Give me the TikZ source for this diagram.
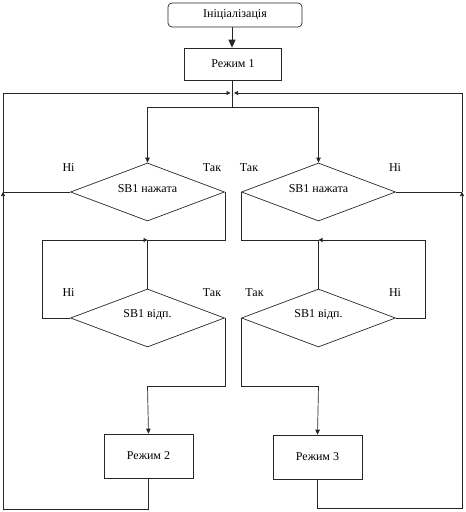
\documentclass[tikz,border=0pt]{standalone}
\usepackage{fontspec}
\setmainfont{Liberation Serif}
\usetikzlibrary{shapes.geometric,arrows.meta}
\begin{document}
\begin{tikzpicture}[x=1pt,y=-1pt,
  every node/.style={font=\fontsize{12}{14}\selectfont},
  ln/.style={draw=black!85,line width=0.7pt},
  box/.style={ln,rectangle,inner sep=0pt},
  dia/.style={ln,diamond,inner sep=0pt,minimum width=154pt,minimum height=58pt},
  lbl/.style={inner sep=0pt},
  tip/.style={-{Triangle[length=5pt,width=4.5pt]}},
  bigtip/.style={-{Triangle[length=8pt,width=7pt]}},
  smalltip/.style={-{Triangle[length=4pt,width=4pt]}}
]
\useasboundingbox (0,0) rectangle (466,512);
\node[box,rounded corners=4pt,minimum width=134pt,minimum height=24pt] (init) at (235,15) {Ініціалізація};
\node[box,minimum width=97pt,minimum height=32pt] (r1) at (233,64) {Режим 1};
\node[dia] (d1) at (147.5,192) {};
\node at (147.5,189) (t1) {SB1 нажата};
\node[dia] (d2) at (147.5,318) {};
\node at (147.5,315) (t2) {SB1 відп.};
\node[dia] (d3) at (318.5,192) {};
\node at (318.5,189) (t3) {SB1 нажата};
\node[dia] (d4) at (318.5,318) {};
\node at (318.5,315) (t4) {SB1 відп.};
\node[box,minimum width=89pt,minimum height=44pt] (r2) at (148.5,456) {Режим 2};
\node[box,minimum width=89pt,minimum height=44pt] (r3) at (317.5,457) {Режим 3};
% labels
\node[lbl] (n1) at (68.5,168) {Ні};
\node[lbl] (y1) at (212,168) {Так};
\node[lbl] (n2) at (68.5,293) {Ні};
\node[lbl] (y2) at (212,293) {Так};
\node[lbl] (y3) at (249,168) {Так};
\node[lbl] (n3) at (395,168) {Ні};
\node[lbl] (y4) at (254.5,293) {Так};
\node[lbl] (n4) at (395,293) {Ні};
% coordinates
\coordinate (sp) at (232,107);
\coordinate (jtl) at (230.5,93);
\coordinate (jtr) at (234,93);
\coordinate (tl) at (3,93);
\coordinate (tr) at (462,93);
\coordinate (lj) at (3,192);
\coordinate (rj) at (462,192);
\coordinate (bl) at (3,509);
\coordinate (br) at (462,508);
\coordinate (m1) at (147.5,240);
\coordinate (m2) at (147.5,386);
\coordinate (m3) at (318.5,240);
\coordinate (m4) at (318.5,386);
\coordinate (lx) at (42,240);
\coordinate (rx) at (425,240);
% connectors
\draw[ln,bigtip] (init.south -| 232,0) -- (r1.north -| 232,0);
\draw[ln] (r1.south -| sp) -- (sp);
\draw[ln,tip] (sp) -| (d1.north);
\draw[ln,tip] (sp) -| (d3.north);
% left column
\draw[ln] (d1.east) |- (m1);
\draw[ln,smalltip] (d2.west) -| (lx) -- (m1);
\draw[ln] (m1) -- (d2.north);
\draw[ln] (d2.east) |- (m2);
\draw[ln,tip] (m2) -- (r2.north);
\draw[ln,smalltip] (r2.south) |- (bl) -- (lj);
\draw[ln] (d1.west) -- (lj);
\draw[ln,smalltip] (lj) -- (tl) -- (jtl);
% right column
\draw[ln] (d3.west) |- (m3);
\draw[ln,smalltip] (d4.east) -| (rx) -- (m3);
\draw[ln] (m3) -- (d4.north);
\draw[ln] (d4.west) |- (m4);
\draw[ln,tip] (m4) -- (r3.north);
\draw[ln,smalltip] (r3.south) |- (br) -- (rj);
\draw[ln] (d3.east) -- (rj);
\draw[ln,smalltip] (rj) -- (tr) -- (jtr);
\end{tikzpicture}
\end{document}
